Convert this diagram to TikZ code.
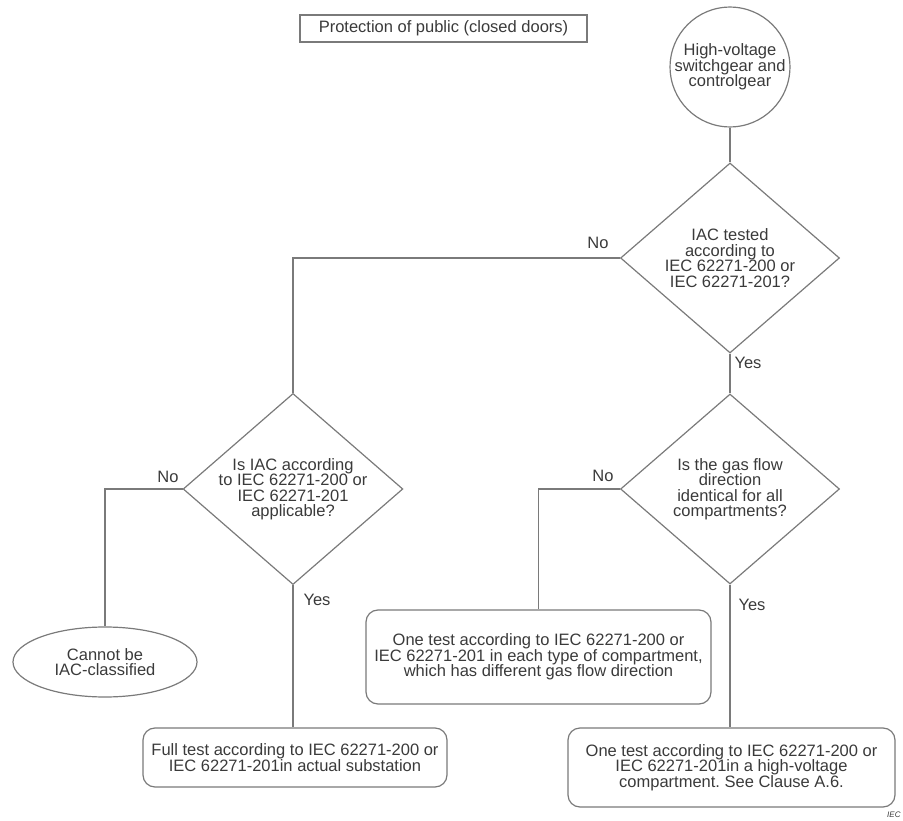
\documentclass[tikz,border=0pt]{standalone}
\usepackage{fontspec}
\setmainfont{Liberation Sans}
\frenchspacing
\usetikzlibrary{shapes.geometric}
\definecolor{linegray}{HTML}{7A7A7A}
\definecolor{textgray}{HTML}{3A3A3A}
\tikzset{
  base/.style={draw=linegray, line width=1.2pt, text=textgray, align=center, inner sep=0pt,
    font=\fontsize{16.5}{15.5}\selectfont},
  titlebox/.style={base, rectangle, minimum width=287pt, minimum height=27pt},
  startnode/.style={base, circle, minimum size=112pt},
  decision/.style={base, diamond, aspect=1.15, minimum width=219pt, minimum height=190pt},
  endnode/.style={base, ellipse, minimum width=184pt, minimum height=70pt},
  actionbox/.style={base, rectangle, rounded corners=12pt},
  conn/.style={draw=linegray, line width=1.2pt},
  lbl/.style={text=textgray, inner sep=0pt, font=\fontsize{16.5}{16}\selectfont},
}
\begin{document}
\begin{tikzpicture}[x=1pt, y=-1pt]
\useasboundingbox (0,0) rectangle (903,821);
\node[titlebox] (title) at (443.5,28.5) {Protection of public (closed doors)};
\node[startnode] (hv) at (730,67) {High-voltage\\switchgear and\\controlgear};
\node[decision] (d1) at (730,258) {IAC tested\\according to\\IEC 62271-200 or\\IEC 62271-201?};
\node[decision] (d2) at (293,489) {Is IAC according\\to IEC 62271-200 or\\IEC 62271-201\\applicable?};
\node[decision] (d3) at (730,489) {Is the gas flow\\direction\\identical for all\\compartments?};
\node[endnode] (ell) at (105,662) {Cannot be\\IAC-classified};
\node[actionbox, minimum width=345pt, minimum height=94pt] (mid) at (538.5,657)
  {One test according to IEC 62271-200 or\\IEC 62271-201 in each type of compartment,\\which has different gas flow direction};
\node[actionbox, minimum width=304pt, minimum height=59pt] (bl) at (295,757.5)
  {Full test according to IEC 62271-200 or\\IEC 62271-201in actual substation};
\node[actionbox, minimum width=327pt, minimum height=79pt] (br) at (731.5,767.5)
  {One test according to IEC 62271-200 or\\IEC 62271-201in a high-voltage\\compartment. See Clause A.6.};

\draw[conn] (hv.south) -- (d1.north);
\draw[conn] (d1.west) -| (d2.north);
\draw[conn] (d1.south) -- (d3.north);
\draw[conn] (d2.west) -| (ell.north);
\draw[conn] (d2.south) -- (d2.south |- bl.north);
\draw[conn] (d3.west) -| (mid.north);
\draw[conn] (d3.south) -- (d3.south |- br.north);

\node[lbl] (no1) at (598,243) {No};
\node[lbl] (yes1) at (748,363) {Yes};
\node[lbl] (no2) at (168,477) {No};
\node[lbl] (yes2) at (317,600) {Yes};
\node[lbl] (no3) at (603,476) {No};
\node[lbl] (yes3) at (752,605) {Yes};
\node[anchor=west, text=textgray, inner sep=0pt, font=\fontsize{8}{8}\selectfont\itshape] (iec) at (887,815) {IEC};
\end{tikzpicture}
\end{document}
